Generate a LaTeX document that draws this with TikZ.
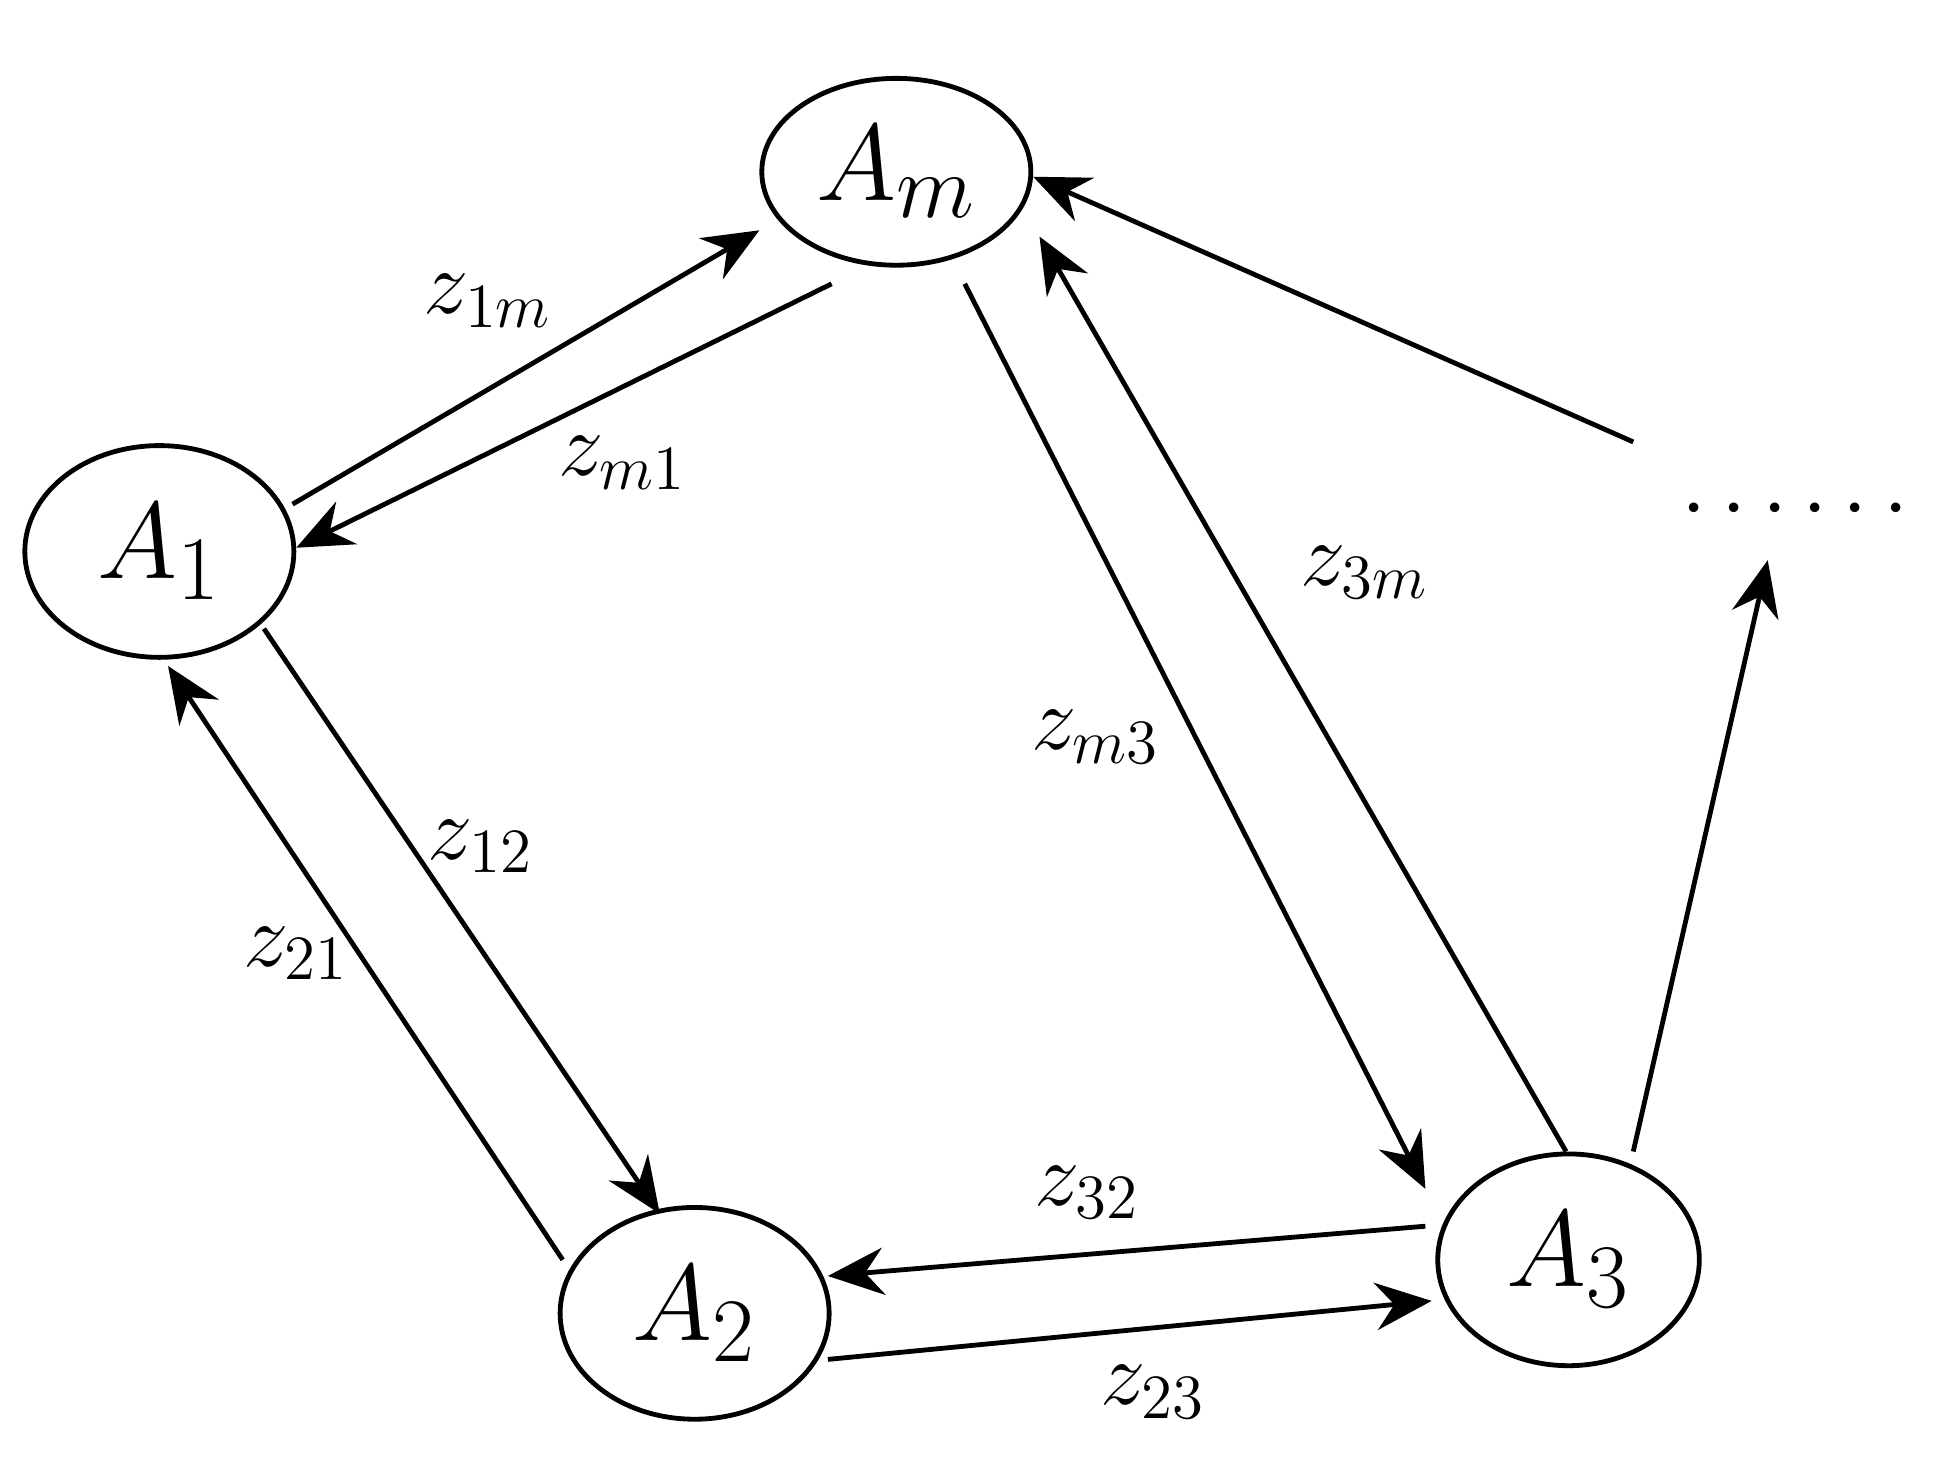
\documentclass[tikz,border=0pt]{standalone}
\usepackage{tikz}
\usetikzlibrary{shapes.geometric}
\usetikzlibrary{arrows.meta}
\tikzset{
	state/.style={draw,ellipse,line width=1.1pt,minimum width=2.16cm,minimum height=1.6cm,font=\fontsize{30}{32}\selectfont},
	link/.style={line width=1.1pt,-{Stealth[length=4.5mm,width=3.8mm,inset=1.5mm]}},
	lbl/.style={font=\fontsize{20}{22}\selectfont}
}
\begin{document}
\begin{tikzpicture}[x=0.01cm,y=-0.01cm]
	\useasboundingbox (0,0) rectangle (1560,1182);
	\node[state,minimum height=1.5cm] (Am) at (720,138) {$A_m$};
	\node[state,minimum height=1.7cm] (A1) at (128,443) {$A_1$};
	\node[state,minimum height=1.7cm] (A2) at (558,1055) {$A_2$};
	\node[state,minimum width=2.1cm,minimum height=1.7cm] (A3) at (1260,1012) {$A_3$};
	\node[lbl] (dots) at (1442,410) {$\cdots\cdots$};
	% end points of the parallel links
	\coordinate (p1) at (235,405); \coordinate (q1) at (610,185);
	\coordinate (p2) at (668,228); \coordinate (q2) at (238,440);
	\coordinate (p3) at (775,228); \coordinate (q3) at (1145,955);
	\coordinate (p4) at (1258,925); \coordinate (q4) at (835,190);
	\coordinate (p5) at (1312,355); \coordinate (q5) at (830,142);
	\coordinate (p6) at (1312,925); \coordinate (q6) at (1420,450);
	\coordinate (p7) at (1145,985); \coordinate (q7) at (665,1025);
	\coordinate (p8) at (665,1092); \coordinate (q8) at (1150,1045);
	\coordinate (p9) at (212,505); \coordinate (q9) at (530,975);
	\coordinate (p10) at (452,1012); \coordinate (q10) at (135,535);
	\foreach \i in {1,...,10}{
		\draw[link] (p\i) -- (q\i);
	}
	\node[lbl] (l1m) at (392,242) {$z_{1m}$};
	\node[lbl] (lm1) at (500,372) {$z_{m1}$};
	\node[lbl] (l3m) at (1096,460) {$z_{3m}$};
	\node[lbl] (lm3) at (880,592) {$z_{m3}$};
	\node[lbl] (l12) at (386,680) {$z_{12}$};
	\node[lbl] (l21) at (238,766) {$z_{21}$};
	\node[lbl] (l32) at (873,958) {$z_{32}$};
	\node[lbl] (l23) at (926,1118) {$z_{23}$};
\end{tikzpicture}
\end{document}
